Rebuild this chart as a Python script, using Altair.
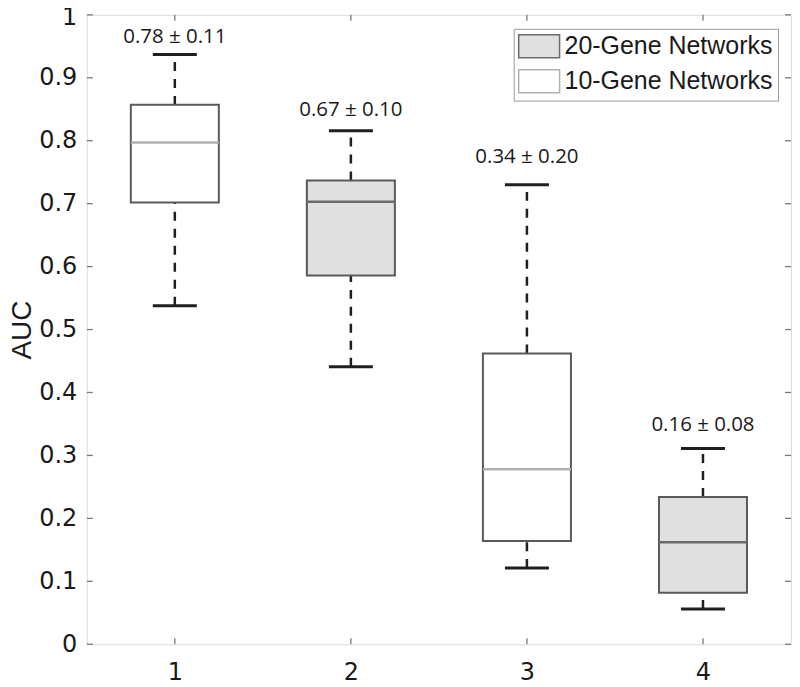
import altair as alt
import pandas as pd

# ---- data ----
positions = [1, 2, 3, 4]
groups = ["10-Gene Networks", "20-Gene Networks", "10-Gene Networks", "20-Gene Networks"]
whisker_low = [0.538, 0.441, 0.121, 0.056]
q1 = [0.702, 0.586, 0.164, 0.082]
median = [0.797, 0.703, 0.278, 0.162]
q3 = [0.857, 0.737, 0.462, 0.234]
whisker_high = [0.937, 0.816, 0.730, 0.311]
annotations = ["0.78 \u00b1 0.11", "0.67 \u00b1 0.10", "0.34 \u00b1 0.20", "0.16 \u00b1 0.08"]
annotation_y = [0.964, 0.849, 0.774, 0.349]
y_ticks = [0, 0.1, 0.2, 0.3, 0.4, 0.5, 0.6, 0.7, 0.8, 0.9, 1]
x_ticks = [1, 2, 3, 4]
legend_order = ["20-Gene Networks", "10-Gene Networks"]

W, H = 706, 631
TICK = 6
FRAME = "#7a7a7a"

df = pd.DataFrame({
    "pos": positions, "group": groups, "lo": whisker_low, "q1": q1,
    "med": median, "q3": q3, "hi": whisker_high,
    "label": annotations, "label_y": annotation_y,
})
yt = pd.DataFrame({"v": y_ticks})
xt = pd.DataFrame({"v": x_ticks})

xs = alt.Scale(domain=[0.5, 4.5], nice=False, zero=False)
ys = alt.Scale(domain=[0, 1], nice=False)

x_axis = alt.Axis(values=x_ticks, format="d", ticks=False, domain=False, grid=False,
                  labelFontSize=24, labelPadding=16, labelColor="#1a1a1a",
                  labelFont="DejaVu Sans", title=None)
y_axis = alt.Axis(values=y_ticks, ticks=False, domain=False, grid=False,
                  labelFontSize=24, labelPadding=10, labelColor="#1a1a1a",
                  labelFont="DejaVu Sans",
                  labelExpr="datum.value == 0 ? '0' : datum.value == 1 ? '1' : format(datum.value, '.1f')",
                  labelOffset={"condition": {"test": "datum.value == 1", "value": 3}, "value": 0},
                  title="AUC", titleFontSize=28, titleFont="Liberation Sans",
                  titleFontWeight="normal", titleColor="#1a1a1a",
                  titleX=-56, titleBaseline="alphabetic")

base = alt.Chart(df)

whisk_low = base.mark_rule(color="#1f1f1f", strokeWidth=2.5, strokeDash=[9, 8]).encode(
    x=alt.X("pos:Q", scale=xs, axis=x_axis),
    y=alt.Y("lo:Q", scale=ys, axis=y_axis),
    y2="q1:Q",
)
whisk_high = base.mark_rule(color="#1f1f1f", strokeWidth=2.5, strokeDash=[9, 8]).encode(
    x=alt.X("pos:Q", scale=xs), y=alt.Y("q3:Q", scale=ys), y2="hi:Q",
)

caps_df = base.transform_calculate(cl="datum.pos - 0.125", cr="datum.pos + 0.125")
cap_low = caps_df.mark_rule(color="#1f1f1f", strokeWidth=3).encode(
    x=alt.X("cl:Q", scale=xs), x2="cr:Q", y=alt.Y("lo:Q", scale=ys))
cap_high = caps_df.mark_rule(color="#1f1f1f", strokeWidth=3).encode(
    x=alt.X("cl:Q", scale=xs), x2="cr:Q", y=alt.Y("hi:Q", scale=ys))

box_df = base.transform_calculate(bl="datum.pos - 0.25", br="datum.pos + 0.25")
boxes = box_df.mark_rect(stroke="#5a5a5a", strokeWidth=2).encode(
    x=alt.X("bl:Q", scale=xs), x2="br:Q",
    y=alt.Y("q1:Q", scale=ys), y2="q3:Q",
    fill=alt.Fill("group:N",
                  scale=alt.Scale(domain=legend_order, range=["#e0e0e0", "#ffffff"]),
                  legend=alt.Legend(
                      title=None, orient="none", legendX=428, legendY=14,
                      symbolType="M-1.087,-1H2.478V1H-1.087Z", symbolSize=529,
                      symbolStrokeColor="#9a9a9a", symbolStrokeWidth=1.5,
                      symbolOpacity=1,
                      labelFontSize=25, labelFont="Liberation Sans", labelColor="#1a1a1a",
                      labelOffset=21, labelLimit=400, rowPadding=6, padding=5,
                      strokeColor="#9a9a9a", fillColor="#ffffff",
                  )),
)
medians = box_df.mark_rule(strokeWidth=2.5).encode(
    x=alt.X("bl:Q", scale=xs), x2="br:Q", y=alt.Y("med:Q", scale=ys),
    stroke=alt.Stroke("group:N",
                      scale=alt.Scale(domain=legend_order, range=["#6a6a6a", "#b0b0b0"]),
                      legend=None),
)
texts = base.mark_text(font="Open Sans", fontSize=20.5, color="#1a1a1a").encode(
    x=alt.X("pos:Q", scale=xs), y=alt.Y("label_y:Q", scale=ys), text="label:N")

# inward tick marks on all four sides
tick_style = dict(color=FRAME, strokeWidth=1.3)
t_left = alt.Chart(yt).mark_rule(**tick_style).encode(
    y=alt.Y("v:Q", scale=ys), x=alt.value(0), x2=alt.value(TICK))
t_right = alt.Chart(yt).mark_rule(**tick_style).encode(
    y=alt.Y("v:Q", scale=ys), x=alt.value(W - TICK), x2=alt.value(W))
t_bottom = alt.Chart(xt).mark_rule(**tick_style).encode(
    x=alt.X("v:Q", scale=xs), y=alt.value(H - TICK), y2=alt.value(H))
t_top = alt.Chart(xt).mark_rule(**tick_style).encode(
    x=alt.X("v:Q", scale=xs), y=alt.value(0), y2=alt.value(TICK))

chart = alt.layer(
    whisk_low, whisk_high, cap_low, cap_high, boxes, medians, texts,
    t_left, t_right, t_bottom, t_top,
).properties(
    width=W, height=H,
    autosize=alt.AutoSizeParams(type="none"),
    padding={"left": 79, "top": 6, "right": 1, "bottom": 44},
).configure_view(
    stroke=FRAME, strokeWidth=1.5
).configure(background="white")

chart.save("out.html", embed_options={"renderer": "svg", "actions": False})
